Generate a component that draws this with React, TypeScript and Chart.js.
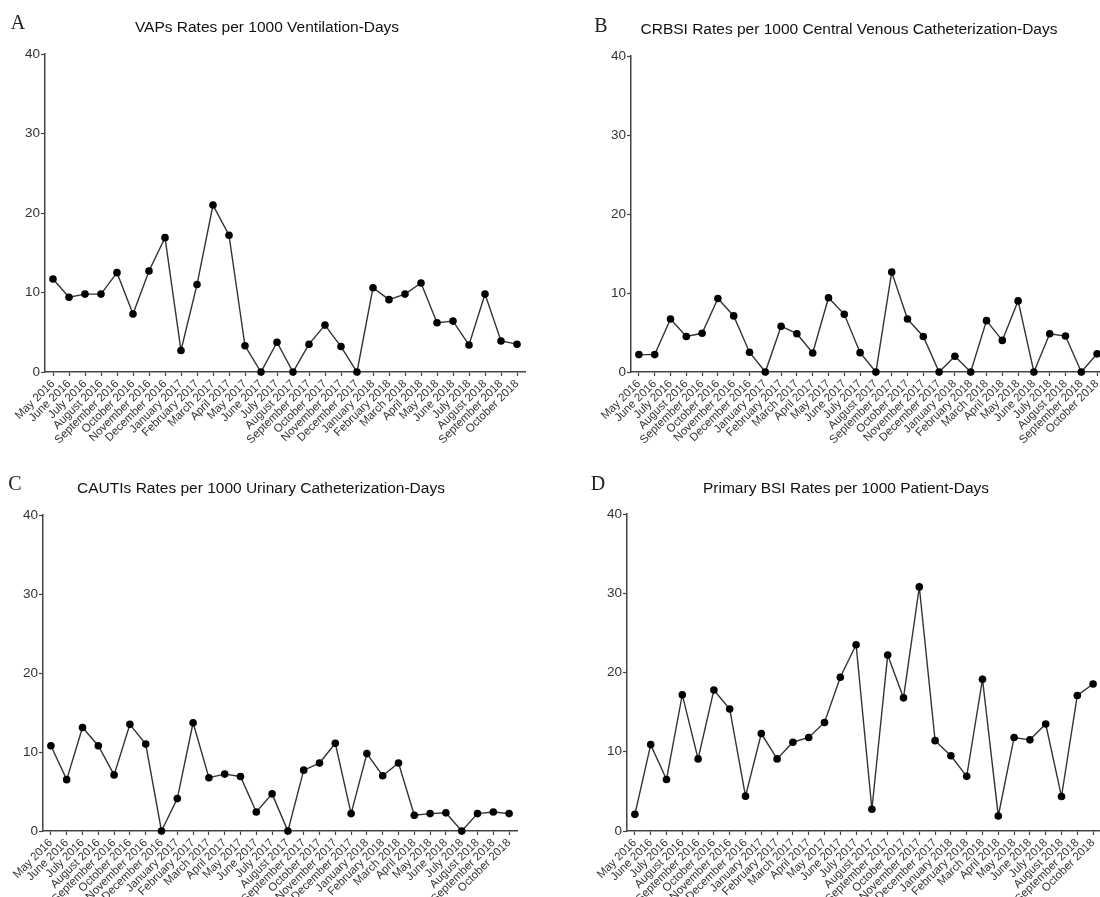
import React, { useEffect, useRef } from "react";
import { Chart, registerables } from "chart.js";

Chart.register(...registerables);

const months = [
  "May 2016", "June 2016", "July 2016", "August 2016", "September 2016", "October 2016",
  "November 2016", "December 2016", "January 2017", "February 2017", "March 2017", "April 2017",
  "May 2017", "June 2017", "July 2017", "August 2017", "September 2017", "October 2017",
  "November 2017", "December 2017", "January 2018", "February 2018", "March 2018", "April 2018",
  "May 2018", "June 2018", "July 2018", "August 2018", "September 2018", "October 2018",
];

const vapRates = [11.7, 9.4, 9.8, 9.8, 12.5, 7.3, 12.7, 16.9, 2.7, 11.0, 21.0, 17.2, 3.3, 0, 3.75, 0, 3.5, 5.9, 3.2, 0, 10.6, 9.1, 9.8, 11.2, 6.2, 6.4, 3.4, 9.8, 3.9, 3.5];
const crbsiRates = [2.2, 2.2, 6.7, 4.5, 4.9, 9.3, 7.1, 2.5, 0, 5.8, 4.85, 2.4, 9.4, 7.3, 2.45, 0, 12.65, 6.7, 4.5, 0, 2.0, 0, 6.5, 4.0, 9.0, 0, 4.85, 4.55, 0, 2.3];
const cautiRates = [10.8, 6.5, 13.1, 10.8, 7.1, 13.5, 11.0, 0, 4.1, 13.7, 6.75, 7.2, 6.9, 2.4, 4.7, 0, 7.7, 8.6, 11.1, 2.2, 9.8, 7.0, 8.6, 2.0, 2.2, 2.3, 0, 2.2, 2.4, 2.2];
const bsiRates = [2.1, 10.9, 6.5, 17.2, 9.1, 17.8, 15.4, 4.4, 12.3, 9.1, 11.2, 11.8, 13.7, 19.4, 23.5, 2.75, 22.2, 16.8, 30.8, 11.4, 9.5, 6.9, 19.15, 1.9, 11.8, 11.5, 13.5, 4.35, 17.1, 18.55];

const yMin = 0;
const yMax = 40;
const yStep = 10;

const titles = [
  "VAPs Rates per 1000 Ventilation-Days",
  "CRBSI Rates per 1000 Central Venous Catheterization-Days",
  "CAUTIs Rates per 1000 Urinary Catheterization-Days",
  "Primary BSI Rates per 1000 Patient-Days",
];
const letters = ["A", "B", "C", "D"];

const Y_AXIS_W = 40;
const SANS = "'Liberation Sans', Arial, Helvetica, sans-serif";

type Geo = { cx: number; cy: number; cw: number; ch: number; L: number; T: number; R: number; B: number };

const geos: Geo[] = [
  { cx: 0, cy: 0, cw: 550, ch: 450, L: 45, T: 54, R: 525, B: 372 },
  { cx: 550, cy: 0, cw: 570, ch: 450, L: 631, T: 56, R: 1105, B: 372 },
  { cx: 0, cy: 450, cw: 550, ch: 447, L: 43, T: 515, R: 517, B: 831 },
  { cx: 550, cy: 450, cw: 570, ch: 447, L: 627, T: 514, R: 1101, B: 831 },
];

const titlePos = [
  { x: 267, y: 27 },
  { x: 849, y: 29 },
  { x: 261, y: 488 },
  { x: 846, y: 488 },
];
const letterPos = [
  { x: 18, y: 22 },
  { x: 601, y: 25 },
  { x: 15, y: 483 },
  { x: 598, y: 483 },
];

function Panel({ geo, values }: { geo: Geo; values: number[] }) {
  const ref = useRef<HTMLCanvasElement>(null);
  useEffect(() => {
    const canvas = ref.current!;
    const l = geo.L - geo.cx;
    const t = geo.T - geo.cy;
    const r = geo.R - geo.cx;
    const b = geo.B - geo.cy;
    const xAxisH = geo.ch - b;
    const chart = new Chart(canvas, {
      type: "line",
      data: {
        labels: months,
        datasets: [
          {
            data: values,
            borderColor: "#333",
            borderWidth: 1.4,
            pointRadius: 3.8,
            pointBackgroundColor: "#000",
            pointBorderColor: "#000",
            pointBorderWidth: 0,
            tension: 0,
            fill: false,
            clip: false,
          } as any,
        ],
      },
      options: {
        responsive: false,
        maintainAspectRatio: false,
        animation: false,
        devicePixelRatio: 1,
        layout: {
          padding: {
            left: l - Y_AXIS_W,
            top: t,
            right: geo.cw - r,
            bottom: 0,
          },
        },
        plugins: {
          legend: { display: false },
          tooltip: { enabled: false },
          title: { display: false },
        },
        scales: {
          x: {
            type: "category",
            offset: true,
            grid: {
              display: true,
              drawOnChartArea: false,
              drawTicks: true,
              tickLength: 4,
              tickWidth: 1.2,
              color: "#444",
              offset: false,
            },
            border: { display: true, color: "#444", width: 1.5 },
            ticks: {
              autoSkip: false,
              minRotation: 45,
              maxRotation: 45,
              padding: 1,
              color: "#333",
              font: { family: SANS, size: 11.5 },
            },
            afterFit: (s: any) => {
              s.height = xAxisH;
            },
          },
          y: {
            type: "linear",
            min: yMin,
            max: yMax,
            grid: {
              display: true,
              drawOnChartArea: false,
              drawTicks: true,
              tickLength: 4,
              tickWidth: 1.2,
              color: "#444",
            },
            border: { display: true, color: "#444", width: 1.5 },
            ticks: {
              stepSize: yStep,
              padding: 1,
              color: "#333",
              font: { family: SANS, size: 13.5 },
            },
            afterFit: (s: any) => {
              s.width = Y_AXIS_W;
            },
          },
        },
      } as any,
    });
    return () => chart.destroy();
  }, []);
  return (
    <canvas
      ref={ref}
      width={geo.cw}
      height={geo.ch}
      style={{ position: "absolute", left: geo.cx, top: geo.cy, width: geo.cw, height: geo.ch }}
    />
  );
}

export default function App() {
  const series = [vapRates, crbsiRates, cautiRates, bsiRates];
  return (
    <div
      style={{
        position: "absolute",
        left: 0,
        top: 0,
        width: 1100,
        height: 897,
        overflow: "hidden",
        background: "#fff",
      }}
    >
      {geos.map((g, i) => (
        <Panel key={i} geo={g} values={series[i]} />
      ))}
      {titles.map((t, i) => (
        <div
          key={"t" + i}
          style={{
            position: "absolute",
            left: titlePos[i].x,
            top: titlePos[i].y,
            transform: "translate(-50%, -50%)",
            whiteSpace: "nowrap",
            fontFamily: SANS,
            fontSize: 15.5,
            lineHeight: "18px",
            color: "#111",
          }}
        >
          {t}
        </div>
      ))}
      {letters.map((t, i) => (
        <div
          key={"l" + i}
          style={{
            position: "absolute",
            left: letterPos[i].x,
            top: letterPos[i].y,
            transform: "translate(-50%, -50%)",
            fontFamily: "'Liberation Serif', 'Times New Roman', serif",
            fontSize: 20,
            lineHeight: "22px",
            color: "#222",
          }}
        >
          {t}
        </div>
      ))}
    </div>
  );
}
